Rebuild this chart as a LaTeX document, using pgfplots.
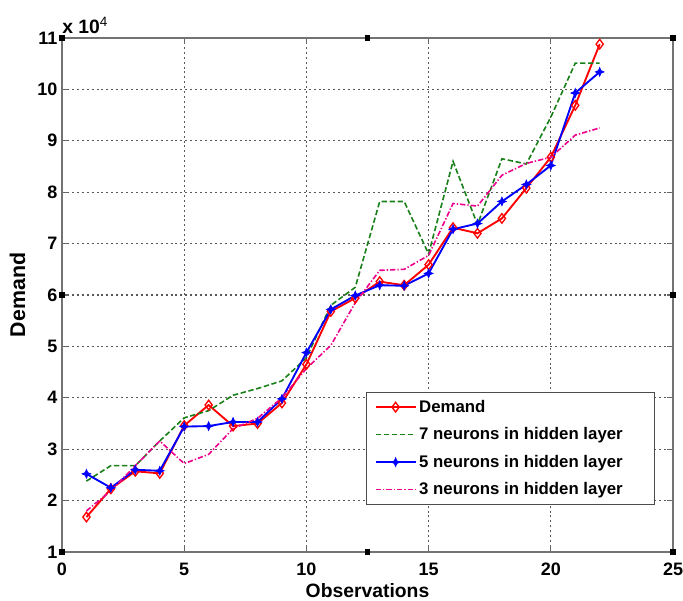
\documentclass[border=0pt]{standalone}
\usepackage{pgfplots}
\pgfplotsset{compat=1.18}
\usepackage{fontspec}
\setmainfont{Liberation Sans}
\pgfdeclareplotmark{star4}{%
  \pgfpathmoveto{\pgfqpoint{0pt}{\pgfplotmarksize}}%
  \pgfpathlineto{\pgfqpoint{0.3\pgfplotmarksize}{0.3\pgfplotmarksize}}%
  \pgfpathlineto{\pgfqpoint{\pgfplotmarksize}{0pt}}%
  \pgfpathlineto{\pgfqpoint{0.3\pgfplotmarksize}{-0.3\pgfplotmarksize}}%
  \pgfpathlineto{\pgfqpoint{0pt}{-\pgfplotmarksize}}%
  \pgfpathlineto{\pgfqpoint{-0.3\pgfplotmarksize}{-0.3\pgfplotmarksize}}%
  \pgfpathlineto{\pgfqpoint{-\pgfplotmarksize}{0pt}}%
  \pgfpathlineto{\pgfqpoint{-0.3\pgfplotmarksize}{0.3\pgfplotmarksize}}%
  \pgfpathclose
  \pgfusepathqfillstroke}
\definecolor{mgreen}{rgb}{0.1,0.5,0.1}
\begin{document}
\begin{tikzpicture}
\begin{axis}[
  scale only axis, width=458.25pt, height=385.5pt,
  xmin=0, xmax=25, ymin=1, ymax=11,
  xtick={0,5,...,25}, ytick={1,...,11},
  grid=major,
  major grid style={black!65, line width=0.8pt, dash pattern=on 1.5pt off 2.2pt},
  axis line style={black!55, line width=0.8pt},
  tick style={black!60, line width=0.8pt},
  tick align=inside,
  /pgf/number format/assume math mode=true,
  ticklabel style={font=\bfseries\fontsize{13.5}{15}\selectfont},
  xticklabel style={yshift=-4.5pt},
  xlabel={Observations}, ylabel={Demand},
  xlabel style={font=\bfseries\fontsize{14.5}{16}\selectfont, yshift=1pt},
  ylabel style={font=\bfseries\fontsize{16}{18}\selectfont, yshift=2pt},
  legend style={at={(0.9705,0.0914)}, anchor=south east,
    font=\bfseries\fontsize{12.6}{14}\selectfont, draw=black!70,
    row sep=6pt, inner xsep=6pt, inner ysep=4pt},
  legend cell align=left,
  legend image code/.code={%
    \draw[mark repeat=2,mark phase=2,#1] plot coordinates {(0pt,0pt) (15pt,0pt) (30pt,0pt)};},
]
\addplot[red, line width=1.4pt, mark=diamond, mark size=3.6pt, mark options={solid, line width=1pt}] coordinates {
(1,1.68) (2,2.23) (3,2.57) (4,2.53) (5,3.46) (6,3.86) (7,3.45) (8,3.50) (9,3.90) (10,4.65)
(11,5.68) (12,5.94) (13,6.26) (14,6.19) (15,6.59) (16,7.31) (17,7.20) (18,7.49) (19,8.08)
(20,8.68) (21,9.69) (22,10.88)};
\addlegendentry{Demand}
\addplot[mgreen, line width=1.2pt, dash pattern=on 4pt off 2pt] coordinates {
(1,2.38) (2,2.68) (3,2.68) (4,3.16) (5,3.61) (6,3.75) (7,4.05) (8,4.18) (9,4.33) (10,4.78)
(11,5.80) (12,6.15) (13,7.82) (14,7.82) (15,6.80) (16,8.60) (17,7.37) (18,8.65) (19,8.55)
(20,9.46) (21,10.51) (22,10.51)};
\addlegendentry{7 neurons in hidden layer\hspace*{16pt}}
\addplot[blue, line width=1.4pt, mark=star4, mark size=3.2pt, mark options={solid, fill=blue, line width=0.6pt}] coordinates {
(1,2.52) (2,2.25) (3,2.60) (4,2.58) (5,3.44) (6,3.45) (7,3.53) (8,3.53) (9,3.98) (10,4.88)
(11,5.72) (12,5.99) (13,6.19) (14,6.18) (15,6.42) (16,7.28) (17,7.39) (18,7.82) (19,8.15)
(20,8.52) (21,9.93) (22,10.34)};
\addlegendentry{5 neurons in hidden layer}
\addplot[magenta, line width=1.2pt, dash pattern=on 4pt off 1.5pt on 1pt off 1.5pt] coordinates {
(1,1.80) (2,2.19) (3,2.68) (4,3.16) (5,2.72) (6,2.90) (7,3.40) (8,3.60) (9,4.00) (10,4.57)
(11,5.02) (12,5.85) (13,6.48) (14,6.50) (15,6.77) (16,7.78) (17,7.73) (18,8.33) (19,8.56)
(20,8.68) (21,9.11) (22,9.25)};
\addlegendentry{3 neurons in hidden layer}
\coordinate (bl) at (rel axis cs:0,0);
\coordinate (tr) at (rel axis cs:1,1);
\coordinate (h1) at (rel axis cs:0,0);
\coordinate (h2) at (rel axis cs:0.5,0);
\coordinate (h3) at (rel axis cs:1,0);
\coordinate (h4) at (rel axis cs:0,0.5);
\coordinate (h5) at (rel axis cs:1,0.5);
\coordinate (h6) at (rel axis cs:0,1);
\coordinate (h7) at (rel axis cs:0.5,1);
\coordinate (h8) at (rel axis cs:1,1);
\end{axis}
\foreach \h in {h1,h2,h3,h4,h5,h6,h7,h8}
  \fill[black] ([shift={(-2.2pt,-2.2pt)}]\h) rectangle ([shift={(2.2pt,2.2pt)}]\h);
\node[anchor=south west, inner sep=0pt, font=\bfseries\fontsize{14.5}{16}\selectfont] at ([yshift=3pt]bl |- tr) {x 10\textsuperscript{\mdseries 4}};
\pgfresetboundingbox
\path[use as bounding box] ([shift={(-46.5pt,-36pt)}]bl) rectangle ([shift={(7.5pt,28.5pt)}]tr);
\end{tikzpicture}
\end{document}
